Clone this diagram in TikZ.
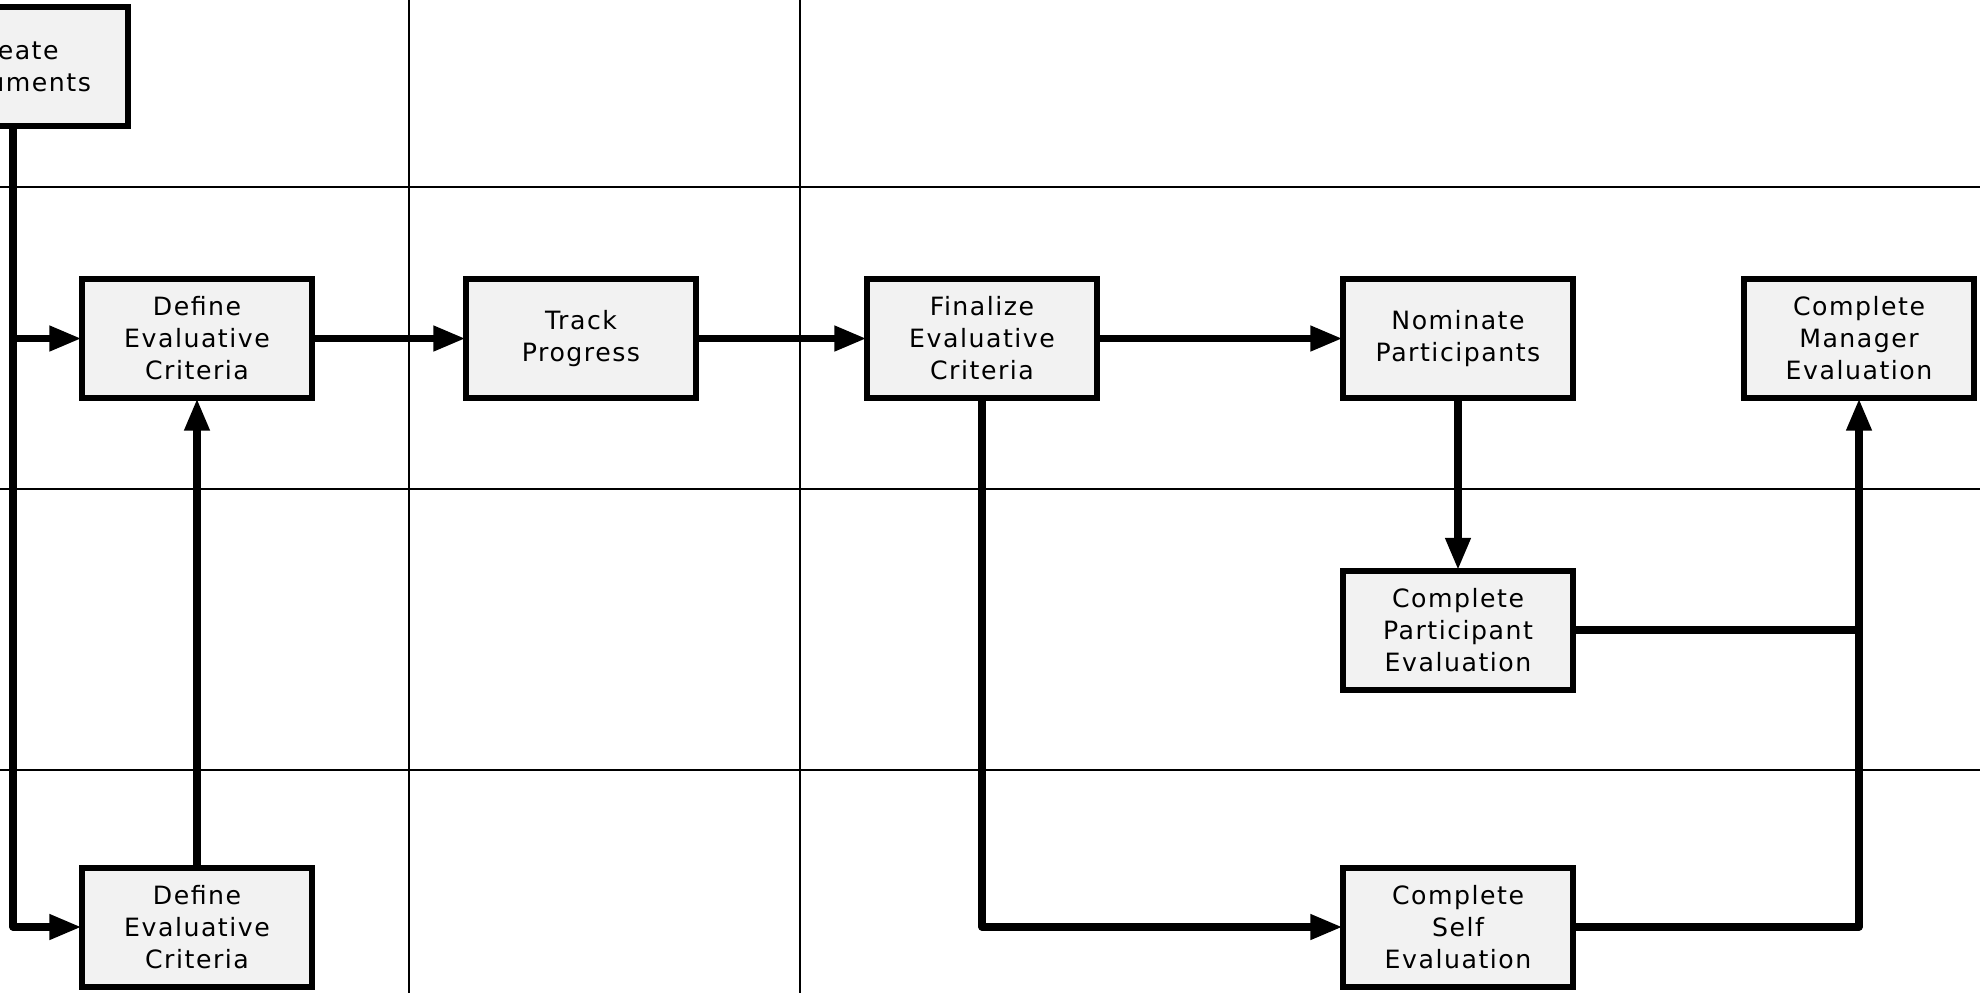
\documentclass[tikz,border=0pt]{standalone}
\usepackage{fontspec}
\setmainfont{DejaVu Sans}[LetterSpace=6]
\usetikzlibrary{arrows.meta,shadows}
\definecolor{boxfill}{HTML}{F2F2F2}
\definecolor{shadowblue}{HTML}{C9D8EE}
\begin{document}
\begin{tikzpicture}[x=0.5pt,y=-0.5pt,
  proc/.style={rectangle, draw=black, line width=3pt, fill=boxfill,
    minimum width=115pt, minimum height=59.5pt, align=center, outer sep=0.3pt,
    font=\fontsize{12.6pt}{16pt}\selectfont, inner sep=0pt,
    drop shadow={shadow xshift=1.5pt, shadow yshift=-1.5pt, fill=shadowblue, opacity=0.6}},
  conn/.style={line width=3.6pt, line join=round, -{Triangle[length=16pt,width=12pt]}},
  plain/.style={line width=3.6pt, line join=round},
  grid/.style={line width=0.9pt}]
\useasboundingbox (0,0) rectangle (1980,993);
\clip (0,0) rectangle (1980,993);
\fill[white] (0,0) rectangle (1980,993);
% swimlane grid
\draw[grid] (409,0) -- (409,993);
\draw[grid] (800,0) -- (800,993);
\draw[grid] (0,187) -- (1980,187);
\draw[grid] (0,489) -- (1980,489);
\draw[grid] (0,770) -- (1980,770);
% nodes
\node[proc] (create) at (13,66.5) {Create\\Documents};
\node[proc] (def1) at (197,338.5) {Define\\Evaluative\\Criteria};
\node[proc] (track) at (581,338.5) {Track\\Progress};
\node[proc] (final) at (982,338.5) {Finalize\\Evaluative\\Criteria};
\node[proc] (nom) at (1458,338.5) {Nominate\\Participants};
\node[proc] (mgr) at (1859,338.5) {Complete\\Manager\\Evaluation};
\node[proc] (part) at (1458,630) {Complete\\Participant\\Evaluation};
\node[proc] (def2) at (197,927) {Define\\Evaluative\\Criteria};
\node[proc] (self) at (1458,927) {Complete\\Self\\Evaluation};
% connectors
\coordinate (trunkmid) at (create.south |- def1.west);
\draw[conn] (create.south) -- (create.south |- def2.west) -- (def2.west);
\draw[conn] (trunkmid) -- (def1.west);
\draw[conn] (def2.north) -- (def1.south);
\draw[conn] (def1.east) -- (track.west);
\draw[conn] (track.east) -- (final.west);
\draw[conn] (final.east) -- (nom.west);
\draw[conn] (final.south) -- (final.south |- self.west) -- (self.west);
\draw[conn] (nom.south) -- (part.north);
\draw[plain] (part.east) -- (part.east -| mgr.south);
\draw[conn] (self.east) -- (self.east -| mgr.south) -- (mgr.south);
\end{tikzpicture}
\end{document}
